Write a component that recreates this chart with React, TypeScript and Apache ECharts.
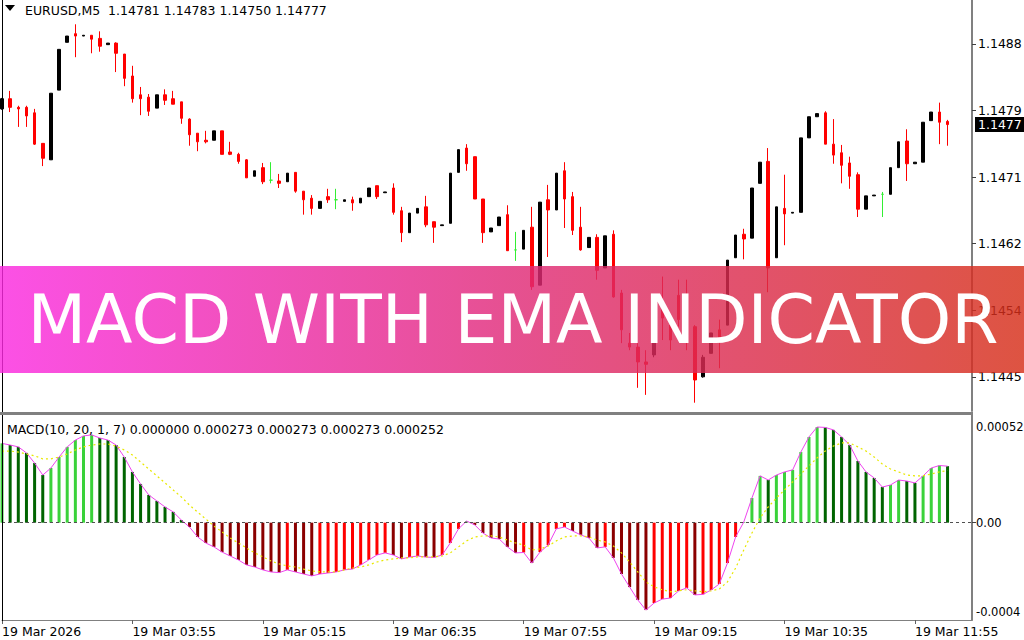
import React, { useEffect, useRef } from 'react';
import * as echarts from 'echarts';

const FONT = 'DejaVu Sans';

const symbolTitle = 'EURUSD,M5  1.14781 1.14783 1.14750 1.14777';
const macdTitle = 'MACD(10, 20, 1, 7) 0.000000 0.000273 0.000273 0.000273 0.000252';
const bannerText = 'MACD WITH EMA INDICATOR';
const dateLabel = '19 Mar';
const firstDateLabel = '19 Mar 2026';

// M5 bars starting at 02:35, with 3 empty slots on the right
const SESSION_START_MIN = 2 * 60 + 35;
const SLOT_COUNT = 120;
const categories = Array.from({ length: SLOT_COUNT }, (_, i) => {
  const m = SESSION_START_MIN + 5 * i;
  return `${String(Math.floor(m / 60)).padStart(2, '0')}:${String(m % 60).padStart(2, '0')}`;
});

const open = [
  1.14797, 1.14810, 1.14799, 1.14799, 1.14792, 1.14753, 1.14732, 1.14821, 1.14882, 1.14893,
  1.14890, 1.14891, 1.14887, 1.14879, 1.14881, 1.14867, 1.14839, 1.14815, 1.14812, 1.14798,
  1.14815, 1.14810, 1.14806, 1.14784, 1.14766, 1.14757, 1.14757, 1.14769, 1.14742, 1.14739,
  1.14732, 1.14711, 1.14722, 1.14706, 1.14705, 1.14704, 1.14716, 1.14692, 1.14683, 1.14670,
  1.14685, 1.14681, 1.14679, 1.14681, 1.14677, 1.14685, 1.14699, 1.14690, 1.14696, 1.14667,
  1.14639, 1.14664, 1.14672, 1.14653, 1.14648, 1.14651, 1.14716, 1.14747, 1.14736, 1.14682,
  1.14640, 1.14648, 1.14662, 1.14617, 1.14618, 1.14646, 1.14572, 1.14681, 1.14668, 1.14718,
  1.14685, 1.14646, 1.14620, 1.14633, 1.14594, 1.14637, 1.14562, 1.14498, 1.14493, 1.14474,
  1.14483, 1.14547, 1.14521, 1.14559, 1.14536, 1.14519, 1.14455, 1.14485, 1.14515, 1.14521,
  1.14607, 1.14637, 1.14632, 1.14702, 1.14730, 1.14607, 1.14670, 1.14664, 1.14665, 1.14760,
  1.14787, 1.14792, 1.14752, 1.14741, 1.14728, 1.14713, 1.14669, 1.14686, 1.14688, 1.14688,
  1.14722, 1.14756, 1.14727, 1.14729, 1.14782, 1.14793, 1.14781,
];

const close = [
  1.14810, 1.14799, 1.14797, 1.14788, 1.14752, 1.14734, 1.14817, 1.14873, 1.14890, 1.14890,
  1.14891, 1.14886, 1.14877, 1.14881, 1.14868, 1.14836, 1.14810, 1.14810, 1.14794, 1.14815,
  1.14808, 1.14803, 1.14785, 1.14764, 1.14755, 1.14755, 1.14769, 1.14739, 1.14739, 1.14730,
  1.14709, 1.14718, 1.14704, 1.14706, 1.14702, 1.14715, 1.14692, 1.14681, 1.14670, 1.14679,
  1.14681, 1.14681, 1.14681, 1.14677, 1.14683, 1.14696, 1.14685, 1.14691, 1.14665, 1.14639,
  1.14664, 1.14670, 1.14649, 1.14646, 1.14649, 1.14715, 1.14745, 1.14727, 1.14682, 1.14639,
  1.14645, 1.14659, 1.14616, 1.14617, 1.14642, 1.14570, 1.14678, 1.14668, 1.14715, 1.14682,
  1.14642, 1.14617, 1.14633, 1.14591, 1.14635, 1.14557, 1.14515, 1.14493, 1.14474, 1.14471,
  1.14515, 1.14530, 1.14502, 1.14528, 1.14519, 1.14451, 1.14480, 1.14511, 1.14502, 1.14604,
  1.14636, 1.14631, 1.14696, 1.14729, 1.14594, 1.14672, 1.14663, 1.14665, 1.14760, 1.14787,
  1.14791, 1.14752, 1.14738, 1.14725, 1.14711, 1.14669, 1.14686, 1.14687, 1.14688, 1.14722,
  1.14755, 1.14727, 1.14729, 1.14780, 1.14793, 1.14780, 1.14777,
];

const low = [
  1.14796, 1.14793, 1.14774, 1.14774, 1.14751, 1.14724, 1.14732, 1.14821, 1.14882, 1.14863,
  1.14890, 1.14868, 1.14870, 1.14879, 1.14844, 1.14826, 1.14805, 1.14789, 1.14788, 1.14798,
  1.14802, 1.14803, 1.14778, 1.14750, 1.14743, 1.14753, 1.14757, 1.14739, 1.14738, 1.14727,
  1.14709, 1.14711, 1.14701, 1.14702, 1.14696, 1.14704, 1.14690, 1.14662, 1.14662, 1.14670,
  1.14677, 1.14669, 1.14679, 1.14667, 1.14677, 1.14685, 1.14682, 1.14690, 1.14662, 1.14627,
  1.14639, 1.14664, 1.14646, 1.14626, 1.14648, 1.14651, 1.14716, 1.14718, 1.14682, 1.14626,
  1.14640, 1.14648, 1.14616, 1.14603, 1.14618, 1.14566, 1.14572, 1.14608, 1.14668, 1.14645,
  1.14636, 1.14616, 1.14620, 1.14579, 1.14594, 1.14556, 1.14498, 1.14489, 1.14441, 1.14432,
  1.14480, 1.14502, 1.14489, 1.14519, 1.14489, 1.14422, 1.14454, 1.14485, 1.14466, 1.14521,
  1.14607, 1.14605, 1.14632, 1.14702, 1.14563, 1.14607, 1.14623, 1.14664, 1.14665, 1.14760,
  1.14787, 1.14752, 1.14727, 1.14702, 1.14695, 1.14659, 1.14669, 1.14686, 1.14659, 1.14688,
  1.14722, 1.14705, 1.14727, 1.14729, 1.14782, 1.14752, 1.14750,
];

const high = [
  1.14811, 1.14820, 1.14801, 1.14801, 1.14797, 1.14753, 1.14817, 1.14873, 1.14890, 1.14905,
  1.14891, 1.14891, 1.14896, 1.14881, 1.14882, 1.14867, 1.14852, 1.14825, 1.14816, 1.14815,
  1.14822, 1.14820, 1.14806, 1.14785, 1.14766, 1.14769, 1.14769, 1.14769, 1.14755, 1.14741,
  1.14733, 1.14718, 1.14728, 1.14729, 1.14714, 1.14715, 1.14716, 1.14692, 1.14687, 1.14679,
  1.14695, 1.14695, 1.14681, 1.14685, 1.14683, 1.14696, 1.14699, 1.14691, 1.14702, 1.14672,
  1.14664, 1.14670, 1.14686, 1.14653, 1.14649, 1.14715, 1.14745, 1.14752, 1.14736, 1.14682,
  1.14645, 1.14659, 1.14674, 1.14640, 1.14642, 1.14672, 1.14678, 1.14700, 1.14715, 1.14729,
  1.14691, 1.14672, 1.14633, 1.14637, 1.14635, 1.14642, 1.14566, 1.14511, 1.14498, 1.14489,
  1.14519, 1.14583, 1.14528, 1.14579, 1.14579, 1.14521, 1.14483, 1.14511, 1.14528, 1.14604,
  1.14636, 1.14644, 1.14696, 1.14729, 1.14747, 1.14672, 1.14713, 1.14665, 1.14760, 1.14787,
  1.14791, 1.14794, 1.14784, 1.14751, 1.14736, 1.14716, 1.14686, 1.14687, 1.14691, 1.14722,
  1.14755, 1.14771, 1.14729, 1.14780, 1.14793, 1.14805, 1.14783,
];

// MACD main line (= histogram, smoothing 1)
const macd = [
  0.000383, 0.000375, 0.000366, 0.000337, 0.000288, 0.000230, 0.000264, 0.000317, 0.000366, 0.000399,
  0.000419, 0.000424, 0.000409, 0.000399, 0.000375, 0.000317, 0.000245, 0.000187, 0.000134, 0.000105,
  0.000076, 0.000052, 0.000013, -0.000021, -0.000069, -0.000098, -0.000117, -0.000142, -0.000161, -0.000180,
  -0.000204, -0.000214, -0.000228, -0.000238, -0.000241, -0.000228, -0.000238, -0.000248, -0.000257, -0.000248,
  -0.000243, -0.000238, -0.000228, -0.000224, -0.000204, -0.000180, -0.000156, -0.000146, -0.000156, -0.000175,
  -0.000166, -0.000161, -0.000166, -0.000168, -0.000156, -0.000098, -0.000030, 0.000008, -0.000011, -0.000050,
  -0.000074, -0.000079, -0.000117, -0.000146, -0.000144, -0.000195, -0.000142, -0.000108, -0.000030, -0.000021,
  -0.000040, -0.000059, -0.000074, -0.000122, -0.000117, -0.000170, -0.000248, -0.000311, -0.000373, -0.000422,
  -0.000388, -0.000369, -0.000364, -0.000330, -0.000315, -0.000349, -0.000346, -0.000325, -0.000296, -0.000195,
  -0.000069, 0.000003, 0.000119, 0.000226, 0.000206, 0.000230, 0.000245, 0.000255, 0.000341, 0.000414,
  0.000462, 0.000460, 0.000448, 0.000414, 0.000375, 0.000298, 0.000245, 0.000216, 0.000172, 0.000182,
  0.000206, 0.000201, 0.000192, 0.000226, 0.000264, 0.000276, 0.000273,
];

const signal = [
  0.000346, 0.000346, 0.000341, 0.000332, 0.000323, 0.000308, 0.000308, 0.000317, 0.000332, 0.000351,
  0.000366, 0.000375, 0.000380, 0.000380, 0.000370, 0.000351, 0.000327, 0.000293, 0.000259, 0.000226,
  0.000192, 0.000158, 0.000124, 0.000085, 0.000051, 0.000018, -0.000016, -0.000045, -0.000074, -0.000098,
  -0.000122, -0.000146, -0.000165, -0.000185, -0.000199, -0.000209, -0.000214, -0.000224, -0.000233, -0.000238,
  -0.000238, -0.000238, -0.000228, -0.000219, -0.000214, -0.000204, -0.000190, -0.000180, -0.000175, -0.000170,
  -0.000170, -0.000165, -0.000165, -0.000165, -0.000161, -0.000146, -0.000117, -0.000088, -0.000069, -0.000064,
  -0.000064, -0.000069, -0.000084, -0.000098, -0.000108, -0.000132, -0.000127, -0.000113, -0.000088, -0.000069,
  -0.000064, -0.000064, -0.000069, -0.000084, -0.000093, -0.000113, -0.000146, -0.000190, -0.000238, -0.000286,
  -0.000310, -0.000324, -0.000334, -0.000329, -0.000324, -0.000329, -0.000334, -0.000329, -0.000320, -0.000286,
  -0.000219, -0.000132, -0.000050, 0.000023, 0.000076, 0.000119, 0.000158, 0.000197, 0.000235, 0.000274,
  0.000313, 0.000346, 0.000370, 0.000385, 0.000385, 0.000366, 0.000346, 0.000317, 0.000283, 0.000259,
  0.000245, 0.000230, 0.000226, 0.000226, 0.000235, 0.000245, 0.000252,
];

const PRICE_MIN = 1.144114;
const PRICE_MAX = 1.14936;
const priceTicks = [1.14455, 1.1454, 1.14625, 1.1471, 1.14795, 1.1488];
const lastPrice = close[close.length - 1];

const MACD_MIN = -0.00047;
const MACD_MAX = 0.00052;
const macdTicks = [MACD_MIN, 0, MACD_MAX];
const macdTickLabels = ['-0.0004', '0.00', '0.00052'];

const LIGHT_GREEN = '#3ad23a';
const DARK_GREEN = '#006400';
const RED = '#ff0000';
const DARK_RED = '#8b0000';

const trunc4 = (v: number) => (Math.floor(v * 10000 + 1e-7) / 10000).toFixed(4);

const histColor = (v: number, prev: number | undefined) => {
  if (v >= 0) return prev === undefined || v >= prev ? LIGHT_GREEN : DARK_GREEN;
  return prev !== undefined && v > prev ? RED : DARK_RED;
};

function buildOption() {
  const candleData = open.map((o, i) => [o, close[i], low[i], high[i]]);
  const histData = macd.map((v, i) => ({
    value: v,
    itemStyle: { color: histColor(v, i > 0 ? macd[i - 1] : undefined) },
  }));
  const axisText = { color: '#000', fontFamily: FONT, fontSize: 12.5 };

  return {
    animation: false,
    backgroundColor: '#ffffff',
    grid: [
      { left: 2, right: 52, top: 0, height: 411, outerBoundsMode: 'none', containLabel: false },
      { left: 2, right: 52, top: 415, height: 205, outerBoundsMode: 'none', containLabel: false },
    ],
    xAxis: [
      { type: 'category', gridIndex: 0, data: categories, boundaryGap: false, show: false },
      {
        type: 'category',
        gridIndex: 1,
        data: categories,
        boundaryGap: false,
        axisLine: { show: true, onZero: false, lineStyle: { color: '#808080', width: 1 } },
        axisTick: { show: true, interval: 15, length: 4, lineStyle: { color: '#606060' } },
        axisLabel: {
          ...axisText,
          interval: 15,
          align: 'left',
          margin: 5,
          formatter: (v: string, i: number) => (i === 0 ? firstDateLabel : `${dateLabel} ${v}`),
        },
        splitLine: { show: false },
      },
    ],
    yAxis: [
      {
        type: 'value',
        gridIndex: 0,
        position: 'right',
        min: PRICE_MIN,
        max: PRICE_MAX,
        axisLine: { show: true, onZero: false, lineStyle: { color: '#808080', width: 2 } },
        axisTick: { show: true, length: 4, customValues: priceTicks, lineStyle: { color: '#404040' } },
        axisLabel: { ...axisText, customValues: priceTicks, margin: 6, formatter: (v: number) => trunc4(v) },
        splitLine: { show: false },
      },
      {
        type: 'value',
        gridIndex: 1,
        position: 'right',
        min: MACD_MIN,
        max: MACD_MAX,
        axisLine: { show: true, onZero: false, lineStyle: { color: '#808080', width: 2 } },
        axisTick: { show: true, length: 4, customValues: [0], lineStyle: { color: '#404040' } },
        axisLabel: {
          ...axisText,
          fontSize: 11.5,
          customValues: macdTicks,
          margin: 4,
          padding: [6, 0, 2, 0],
          verticalAlignMinLabel: 'bottom',
          verticalAlignMaxLabel: 'top',
          formatter: (v: number) => macdTickLabels[macdTicks.indexOf(v)] ?? '',
        },
        splitLine: { show: false },
      },
      {
        // current price tag on the price scale
        type: 'value',
        gridIndex: 0,
        position: 'right',
        min: PRICE_MIN,
        max: PRICE_MAX,
        axisLine: { show: false },
        axisTick: { show: false },
        splitLine: { show: false },
        axisLabel: {
          ...axisText,
          customValues: [lastPrice],
          margin: 3,
          color: '#ffffff',
          backgroundColor: '#000000',
          padding: [1, 4, 1, 3],
          formatter: (v: number) => trunc4(v),
        },
      },
    ],
    series: [
      {
        type: 'candlestick',
        xAxisIndex: 0,
        yAxisIndex: 0,
        data: candleData,
        barWidth: 3,
        itemStyle: {
          color: '#000000',
          color0: '#ff0000',
          borderColor: '#000000',
          borderColor0: '#ff0000',
          borderColorDoji: '#33ee33',
          borderWidth: 1,
        },
      },
      {
        type: 'bar',
        xAxisIndex: 1,
        yAxisIndex: 1,
        data: histData,
        barWidth: 3,
        markLine: {
          silent: true,
          symbol: 'none',
          label: { show: false },
          lineStyle: { color: '#505050', width: 1, type: [3, 3] },
          data: [{ yAxis: 0 }],
        },
      },
      {
        type: 'line',
        xAxisIndex: 1,
        yAxisIndex: 1,
        data: macd,
        showSymbol: false,
        symbol: 'none',
        lineStyle: { color: '#ee44ee', width: 1 },
        z: 3,
      },
      {
        type: 'line',
        xAxisIndex: 1,
        yAxisIndex: 1,
        data: signal,
        showSymbol: false,
        symbol: 'none',
        lineStyle: { color: '#e8e800', width: 1.2, type: [2, 3] },
        z: 4,
      },
    ],
    graphic: [
      { type: 'line', z: 50, shape: { x1: 2.5, y1: 0, x2: 2.5, y2: 621 }, style: { stroke: '#000000', lineWidth: 1 } },
      { type: 'rect', z: 50, shape: { x: 0, y: 412, width: 973, height: 3 }, style: { fill: '#808080' } },
      { type: 'polygon', z: 50, shape: { points: [[5, 5], [15, 5], [10, 11]] }, style: { fill: '#000000' } },
      {
        type: 'text',
        z: 50,
        x: 25,
        y: 10,
        style: { text: symbolTitle, fill: '#000000', fontFamily: FONT, fontSize: 12.5, verticalAlign: 'middle', align: 'left' },
      },
      {
        type: 'text',
        z: 50,
        x: 7,
        y: 429,
        style: { text: macdTitle, fill: '#000000', fontFamily: FONT, fontSize: 12.5, verticalAlign: 'middle', align: 'left' },
      },
      {
        type: 'rect',
        z: 100,
        shape: { x: 0, y: 266, width: 1024, height: 107 },
        style: {
          opacity: 0.82,
          fill: {
            type: 'linear',
            x: 0,
            y: 0,
            x2: 1,
            y2: 0,
            colorStops: [
              { offset: 0, color: '#fb2ae0' },
              { offset: 0.5, color: '#e02a78' },
              { offset: 1, color: '#d62e18' },
            ],
          },
        },
      },
      {
        type: 'text',
        z: 101,
        x: 513,
        y: 319,
        style: {
          text: bannerText,
          fill: '#ffffff',
          fontFamily: FONT,
          fontSize: 68,
          fontWeight: 'normal',
          align: 'center',
          verticalAlign: 'middle',
        },
      },
    ],
  };
}

export default function App() {
  const ref = useRef<HTMLDivElement>(null);
  useEffect(() => {
    if (!ref.current) return;
    const chart = echarts.init(ref.current, null, { renderer: 'svg' });
    chart.setOption(buildOption() as any);
    return () => chart.dispose();
  }, []);
  return (
    <div
      ref={ref}
      style={{ position: 'absolute', left: 0, top: 0, width: 1024, height: 640, background: '#ffffff' }}
    />
  );
}
